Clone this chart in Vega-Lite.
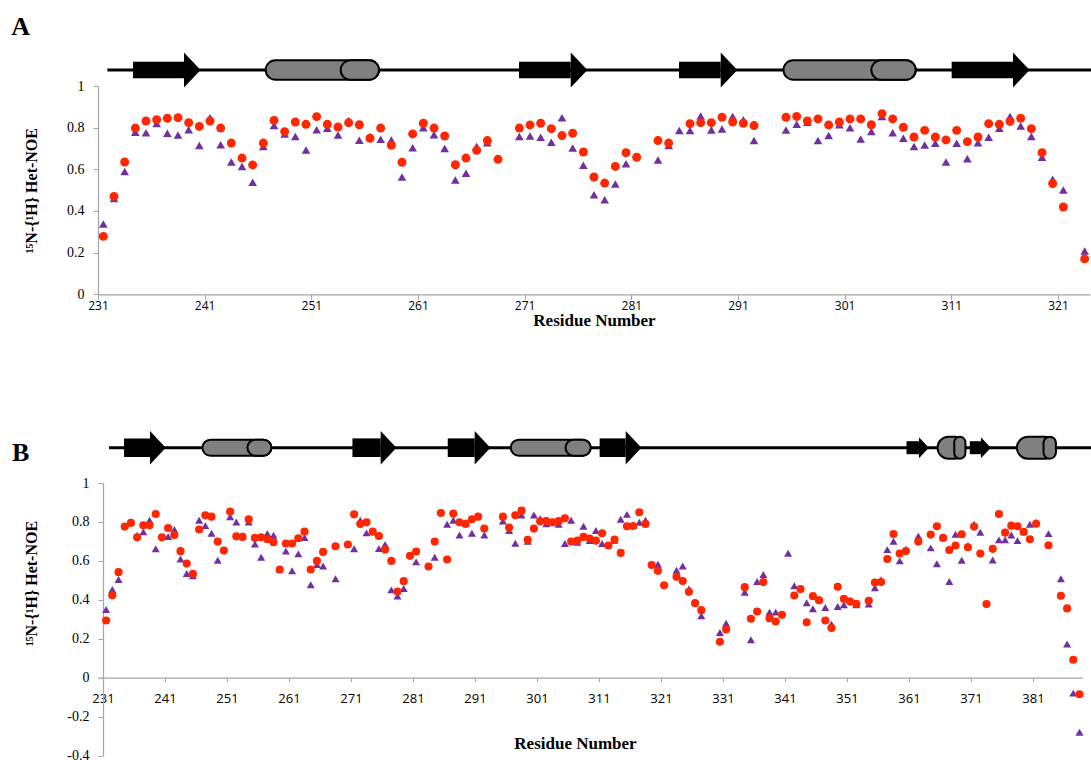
{
  "$schema": "https://vega.github.io/schema/vega-lite/v6.json",
  "autosize": {"type": "pad"},
  "padding": {"left": 11, "top": 14, "right": 0, "bottom": 0},
  "background": "white",
  "config": {
    "view": {"stroke": null},
    "axis": {"grid": false, "domainColor": "#a6a6a6", "tickColor": "#a6a6a6", "labelColor": "#000000", "titleColor": "#000000", "domainWidth": 1.2, "labelOverlap": false}
  },
  "datasets": {
    "noeA": [{"res":231,"p":0.338,"r":0.278},{"res":232,"p":0.46,"r":0.47},{"res":233,"p":0.59,"r":0.635},{"res":234,"p":0.778,"r":0.798},{"res":235,"p":0.776,"r":0.832},{"res":236,"p":0.82,"r":0.838},{"res":237,"p":0.773,"r":0.845},{"res":238,"p":0.765,"r":0.848},{"res":239,"p":0.79,"r":0.824},{"res":240,"p":0.714,"r":0.806},{"res":241,"p":0.848,"r":0.832},{"res":242,"p":0.718,"r":0.798},{"res":243,"p":0.635,"r":0.726},{"res":244,"p":0.613,"r":0.654},{"res":245,"p":0.538,"r":0.621},{"res":246,"p":0.71,"r":0.726},{"res":247,"p":0.81,"r":0.835},{"res":248,"p":0.77,"r":0.781},{"res":249,"p":0.757,"r":0.827},{"res":250,"p":0.693,"r":0.816},{"res":251,"p":0.79,"r":0.853},{"res":252,"p":0.797,"r":0.816},{"res":253,"p":0.765,"r":0.803},{"res":254,"p":0.834,"r":0.824},{"res":255,"p":0.74,"r":0.814},{"res":256,"p":0.757,"r":0.749},{"res":257,"p":0.744,"r":0.798},{"res":258,"p":0.741,"r":0.715},{"res":259,"p":0.563,"r":0.634},{"res":260,"p":0.704,"r":0.77},{"res":261,"p":0.8,"r":0.821},{"res":262,"p":0.766,"r":0.798},{"res":263,"p":0.7,"r":0.76},{"res":264,"p":0.549,"r":0.622},{"res":265,"p":0.581,"r":0.654},{"res":266,"p":0.71,"r":0.691},{"res":267,"p":0.728,"r":0.738},{"res":268,"p":null,"r":0.648},{"res":270,"p":0.757,"r":0.798},{"res":271,"p":0.76,"r":0.813},{"res":272,"p":0.754,"r":0.821},{"res":273,"p":0.73,"r":0.795},{"res":274,"p":0.848,"r":0.762},{"res":275,"p":0.702,"r":0.773},{"res":276,"p":0.62,"r":0.683},{"res":277,"p":0.478,"r":0.563},{"res":278,"p":0.454,"r":0.534},{"res":279,"p":0.53,"r":0.614},{"res":280,"p":0.627,"r":0.68},{"res":281,"p":null,"r":0.658},{"res":283,"p":0.645,"r":0.738},{"res":284,"p":0.714,"r":0.726},{"res":285,"p":0.786,"r":null},{"res":286,"p":0.786,"r":0.819},{"res":287,"p":0.856,"r":0.824},{"res":288,"p":0.789,"r":0.824},{"res":289,"p":0.794,"r":0.85},{"res":290,"p":0.853,"r":0.827},{"res":291,"p":0.838,"r":0.821},{"res":292,"p":0.738,"r":0.81},{"res":295,"p":0.789,"r":0.85},{"res":296,"p":0.816,"r":0.854},{"res":297,"p":0.826,"r":0.832},{"res":298,"p":0.738,"r":0.842},{"res":299,"p":0.762,"r":0.813},{"res":300,"p":0.814,"r":0.827},{"res":301,"p":0.8,"r":0.842},{"res":302,"p":0.746,"r":0.842},{"res":303,"p":0.781,"r":0.814},{"res":304,"p":0.853,"r":0.867},{"res":305,"p":0.776,"r":0.842},{"res":306,"p":0.749,"r":0.802},{"res":307,"p":0.709,"r":0.755},{"res":308,"p":0.717,"r":0.787},{"res":309,"p":0.725,"r":0.755},{"res":310,"p":0.635,"r":0.741},{"res":311,"p":0.725,"r":0.787},{"res":312,"p":0.651,"r":0.733},{"res":313,"p":0.728,"r":0.755},{"res":314,"p":0.754,"r":0.819},{"res":315,"p":0.797,"r":0.816},{"res":316,"p":0.853,"r":0.83},{"res":317,"p":0.808,"r":0.845},{"res":318,"p":0.757,"r":0.795},{"res":319,"p":0.658,"r":0.68},{"res":320,"p":0.552,"r":0.531},{"res":321,"p":0.501,"r":0.419},{"res":323,"p":0.208,"r":0.17}],
    "noeB": [{"res":231,"p":0.35,"r":0.294},{"res":232,"p":0.453,"r":0.424},{"res":233,"p":0.504,"r":0.542},{"res":234,"p":null,"r":0.776},{"res":235,"p":null,"r":0.795},{"res":236,"p":0.732,"r":0.721},{"res":237,"p":0.749,"r":0.783},{"res":238,"p":0.809,"r":0.783},{"res":239,"p":0.662,"r":0.841},{"res":240,"p":null,"r":0.721},{"res":241,"p":0.725,"r":0.769},{"res":242,"p":0.761,"r":0.733},{"res":243,"p":0.61,"r":0.65},{"res":244,"p":0.535,"r":0.586},{"res":245,"p":0.523,"r":0.533},{"res":246,"p":0.809,"r":0.761},{"res":247,"p":0.781,"r":0.834},{"res":248,"p":0.742,"r":0.827},{"res":249,"p":0.603,"r":0.699},{"res":250,"p":null,"r":0.653},{"res":251,"p":0.827,"r":0.853},{"res":252,"p":0.8,"r":0.726},{"res":253,"p":0.73,"r":0.723},{"res":254,"p":0.8,"r":0.814},{"res":255,"p":0.687,"r":0.718},{"res":256,"p":0.619,"r":0.721},{"res":257,"p":0.74,"r":0.711},{"res":258,"p":0.732,"r":0.696},{"res":259,"p":0.557,"r":0.556},{"res":260,"p":0.65,"r":0.689},{"res":261,"p":0.549,"r":0.689},{"res":262,"p":0.636,"r":0.716},{"res":263,"p":0.72,"r":0.75},{"res":264,"p":0.477,"r":0.556},{"res":265,"p":0.581,"r":0.6},{"res":266,"p":0.573,"r":0.646},{"res":268,"p":0.508,"r":0.675},{"res":270,"p":null,"r":0.684},{"res":271,"p":0.662,"r":0.839},{"res":272,"p":0.809,"r":0.79},{"res":273,"p":0.744,"r":0.798},{"res":274,"p":null,"r":0.75},{"res":275,"p":0.663,"r":0.728},{"res":276,"p":0.684,"r":0.658},{"res":277,"p":0.451,"r":0.6},{"res":278,"p":0.419,"r":0.443},{"res":279,"p":0.458,"r":0.496},{"res":280,"p":null,"r":0.626},{"res":281,"p":0.595,"r":0.648},{"res":283,"p":null,"r":0.571},{"res":284,"p":0.619,"r":0.699},{"res":285,"p":null,"r":0.846},{"res":286,"p":0.788,"r":0.607},{"res":287,"p":0.809,"r":0.843},{"res":288,"p":0.733,"r":0.798},{"res":289,"p":0.795,"r":0.79},{"res":290,"p":0.742,"r":0.814},{"res":291,"p":null,"r":0.827},{"res":292,"p":0.733,"r":0.766},{"res":295,"p":0.805,"r":0.827},{"res":296,"p":0.756,"r":0.771},{"res":297,"p":0.691,"r":0.834},{"res":298,"p":0.836,"r":0.858},{"res":299,"p":0.701,"r":0.708},{"res":300,"p":0.836,"r":0.766},{"res":301,"p":0.817,"r":0.803},{"res":302,"p":0.791,"r":0.805},{"res":303,"p":0.798,"r":0.798},{"res":304,"p":0.788,"r":0.805},{"res":305,"p":0.689,"r":0.819},{"res":306,"p":0.809,"r":0.699},{"res":307,"p":0.696,"r":0.704},{"res":308,"p":0.778,"r":0.723},{"res":309,"p":0.704,"r":0.715},{"res":310,"p":0.756,"r":0.704},{"res":311,"p":0.689,"r":0.742},{"res":312,"p":null,"r":0.679},{"res":313,"p":0.706,"r":0.709},{"res":314,"p":0.814,"r":0.641},{"res":315,"p":0.839,"r":0.778},{"res":316,"p":0.781,"r":0.779},{"res":317,"p":0.798,"r":0.85},{"res":318,"p":0.809,"r":0.79},{"res":319,"p":null,"r":0.579},{"res":320,"p":0.583,"r":0.549},{"res":321,"p":null,"r":0.475},{"res":323,"p":0.552,"r":0.518},{"res":324,"p":0.574,"r":0.497},{"res":325,"p":0.456,"r":0.441},{"res":326,"p":null,"r":0.383},{"res":327,"p":0.318,"r":0.347},{"res":330,"p":0.232,"r":0.185},{"res":331,"p":0.28,"r":0.248},{"res":334,"p":0.439,"r":0.465},{"res":335,"p":0.195,"r":0.303},{"res":336,"p":0.494,"r":0.34},{"res":337,"p":0.53,"r":0.491},{"res":338,"p":0.337,"r":0.306},{"res":339,"p":0.337,"r":0.289},{"res":340,"p":null,"r":0.323},{"res":341,"p":0.639,"r":null},{"res":342,"p":0.472,"r":0.422},{"res":343,"p":null,"r":0.455},{"res":344,"p":0.385,"r":0.285},{"res":345,"p":0.354,"r":0.419},{"res":346,"p":0.405,"r":0.398},{"res":347,"p":0.361,"r":0.294},{"res":348,"p":0.275,"r":0.255},{"res":349,"p":0.366,"r":0.467},{"res":350,"p":0.374,"r":0.405},{"res":351,"p":0.397,"r":0.391},{"res":352,"p":0.374,"r":0.379},{"res":354,"p":0.378,"r":0.395},{"res":355,"p":0.462,"r":0.489},{"res":356,"p":0.503,"r":0.491},{"res":357,"p":0.658,"r":0.61},{"res":358,"p":0.701,"r":0.738},{"res":359,"p":0.6,"r":0.638},{"res":360,"p":0.66,"r":0.651},{"res":362,"p":0.727,"r":0.699},{"res":364,"p":0.667,"r":0.735},{"res":365,"p":0.585,"r":0.778},{"res":366,"p":0.723,"r":0.718},{"res":367,"p":0.494,"r":0.656},{"res":368,"p":0.737,"r":0.679},{"res":369,"p":0.603,"r":0.737},{"res":370,"p":0.679,"r":0.67},{"res":371,"p":0.788,"r":0.776},{"res":372,"p":0.747,"r":0.638},{"res":373,"p":null,"r":0.378},{"res":374,"p":0.605,"r":0.662},{"res":375,"p":0.708,"r":0.841},{"res":376,"p":0.708,"r":0.745},{"res":377,"p":0.733,"r":0.781},{"res":378,"p":0.704,"r":0.778},{"res":379,"p":0.75,"r":0.749},{"res":380,"p":0.788,"r":0.711},{"res":381,"p":0.798,"r":0.791},{"res":383,"p":0.74,"r":0.68},{"res":385,"p":0.508,"r":0.421},{"res":386,"p":0.173,"r":0.356},{"res":387,"p":-0.079,"r":0.092},{"res":388,"p":-0.28,"r":-0.085}],
    "ssA": [{"type":"coil","start":231.38,"end":323.7},{"type":"strand","start":233.78,"head":238.56,"end":240.13},{"type":"helix","start":246.22,"cap":253.25,"end":256.84},{"type":"strand","start":269.97,"head":274.82,"end":276.32},{"type":"strand","start":284.97,"head":288.88,"end":290.44},{"type":"helix","start":294.76,"cap":303.0,"end":307.16},{"type":"strand","start":310.53,"head":316.28,"end":317.78}],
    "ssB": [{"type":"coil","start":231.47,"end":390},{"type":"strand","start":233.89,"head":238.08,"end":240.61},{"type":"helix","start":246.53,"cap":253.79,"end":257.66},{"type":"strand","start":270.73,"head":275.29,"end":277.71},{"type":"strand","start":286.1,"head":290.45,"end":292.7},{"type":"helix","start":296.26,"cap":305.1,"end":309.16},{"type":"strand","start":310.6,"head":314.8,"end":317.2},{"type":"strand","start":360.1,"head":362.1,"end":363.7},{"type":"helix","start":365.1,"cap":367.8,"end":369.6},{"type":"strand","start":370.3,"head":372.1,"end":373.2},{"type":"helix","start":377.9,"cap":382.2,"end":384.2}]
  },
  "bounds": "flush",
  "spacing": 0,
  "vconcat": [
    {
      "width": 992, "height": 40,
      "data": {"name": "ssA"},
      "layer": [
        {"transform": [{"filter": "datum.type === 'coil'"}],
         "mark": {"type": "rule", "color": "black", "strokeWidth": 3},
         "encoding": {"x": {"field": "start", "type": "quantitative", "scale": {"domain": [230.5, 323.5], "nice": false, "zero": false}, "axis": null}, "x2": {"field": "end"}, "y": {"datum": 0, "type": "quantitative", "scale": {"domain": [-0.8, 1.2], "nice": false, "zero": false}, "axis": null}}},
        {"transform": [{"filter": "datum.type === 'helix'"}],
         "mark": {"type": "rect", "fill": "#808080", "stroke": "black", "strokeWidth": 2, "cornerRadius": 40},
         "encoding": {"x": {"field": "start", "type": "quantitative"}, "x2": {"field": "end"}, "y": {"datum": 0.485, "type": "quantitative"}, "y2": {"datum": -0.485}}},
        {"transform": [{"filter": "datum.type === 'helix'"}],
         "mark": {"type": "rect", "fill": "#808080", "stroke": "black", "strokeWidth": 2, "cornerRadius": 40},
         "encoding": {"x": {"field": "cap", "type": "quantitative"}, "x2": {"field": "end"}, "y": {"datum": 0.485, "type": "quantitative"}, "y2": {"datum": -0.485}}},
        {"transform": [{"filter": "datum.type === 'strand'"}],
         "mark": {"type": "rect", "fill": "black"},
         "encoding": {"x": {"field": "start", "type": "quantitative"}, "x2": {"field": "head"}, "y": {"datum": 0.415, "type": "quantitative"}, "y2": {"datum": -0.415}}},
        {"transform": [{"filter": "datum.type === 'strand'"}],
         "mark": {"type": "point", "shape": "M0,-1L0.95,0L0,1Z", "filled": true, "color": "black", "opacity": 1, "size": 1225, "strokeWidth": 0},
         "encoding": {"x": {"field": "head", "type": "quantitative"}, "y": {"datum": 0, "type": "quantitative"}}},
        {"data": {"values": [{"label": "A"}]},
         "mark": {"type": "text", "font": "Liberation Serif", "fontWeight": "bold", "fontSize": 26, "align": "center", "baseline": "middle", "color": "black"},
         "encoding": {"x": {"datum": 223.25, "type": "quantitative"}, "y": {"datum": 2.15, "type": "quantitative"}, "text": {"field": "label"}}}
      ]
    },
    {
      "width": 992, "height": 208.3,
      "data": {"name": "noeA"},
      "encoding": {
        "x": {"field": "res", "type": "quantitative", "scale": {"domain": [230.5, 323.5], "nice": false, "zero": false},
              "axis": {"values": [230.5,240.5,250.5,260.5,270.5,280.5,290.5,300.5,310.5,320.5], "tickCount": 20, "labelExpr": "format(datum.value + 0.5, 'd')", "labelOverlap": false, "title": "Residue Number", "titleFont": "Liberation Serif", "titleFontSize": 17, "titleFontWeight": "bold", "titleBaseline": "middle", "titleY": 26, "labelFont": "Open Sans", "labelFontSize": 12, "labelFlush": false, "tickSize": 5, "labelPadding": 1}}
      },
      "layer": [
        {"mark": {"type": "point", "shape": "triangle-up", "filled": true, "color": "#7030A0", "opacity": 1, "size": 75},
         "encoding": {"y": {"field": "p", "type": "quantitative", "title": "¹⁵N-{¹H} Het-NOE", "scale": {"domain": [0, 1], "nice": false, "zero": false},
              "axis": {"values": [0, 0.2, 0.4, 0.6, 0.8, 1], "tickCount": 10, "labelExpr": "datum.value < 0 ? '-' + format(-datum.value, '~g') : format(datum.value, '~g')", "labelOverlap": false, "titleFont": "Liberation Serif", "titleFontSize": 16, "titleFontWeight": "bold", "titleBaseline": "middle", "titleX": -67, "labelFont": "Liberation Serif", "labelFontSize": 14, "tickSize": 5, "labelPadding": 9}}}},
        {"mark": {"type": "circle", "color": "#FF2600", "opacity": 1, "size": 80},
         "encoding": {"y": {"field": "r", "type": "quantitative", "title": "¹⁵N-{¹H} Het-NOE"}}}
      ]
    },
    {
      "width": 984.6, "height": 187.4,
      "data": {"name": "ssB"},
      "layer": [
        {"transform": [{"filter": "datum.type === 'coil'"}],
         "mark": {"type": "rule", "color": "black", "strokeWidth": 3},
         "encoding": {"x": {"field": "start", "type": "quantitative", "scale": {"domain": [229.69, 388.5], "nice": false, "zero": false}, "axis": null}, "x2": {"field": "end"}, "y": {"datum": 0, "type": "quantitative", "scale": {"domain": [-1.735, 7.635], "nice": false, "zero": false}, "axis": null}}},
        {"transform": [{"filter": "datum.type === 'helix' && datum.end - datum.start >= 8"}],
         "mark": {"type": "rect", "fill": "#808080", "stroke": "black", "strokeWidth": 2, "cornerRadius": 40},
         "encoding": {"x": {"field": "start", "type": "quantitative"}, "x2": {"field": "end"}, "y": {"datum": 0.4, "type": "quantitative"}, "y2": {"datum": -0.4}}},
        {"transform": [{"filter": "datum.type === 'helix' && datum.end - datum.start >= 8"}],
         "mark": {"type": "rect", "fill": "#808080", "stroke": "black", "strokeWidth": 2, "cornerRadius": 40},
         "encoding": {"x": {"field": "cap", "type": "quantitative"}, "x2": {"field": "end"}, "y": {"datum": 0.4, "type": "quantitative"}, "y2": {"datum": -0.4}}},
        {"transform": [{"filter": "datum.type === 'helix' && datum.end - datum.start < 8"}],
         "mark": {"type": "rect", "fill": "#808080", "stroke": "black", "strokeWidth": 2, "cornerRadius": 40},
         "encoding": {"x": {"field": "start", "type": "quantitative"}, "x2": {"field": "end"}, "y": {"datum": 0.55, "type": "quantitative"}, "y2": {"datum": -0.55}}},
        {"transform": [{"filter": "datum.type === 'helix' && datum.end - datum.start < 8"}],
         "mark": {"type": "rect", "fill": "#808080", "stroke": "black", "strokeWidth": 2, "cornerRadius": 40},
         "encoding": {"x": {"field": "cap", "type": "quantitative"}, "x2": {"field": "end"}, "y": {"datum": 0.55, "type": "quantitative"}, "y2": {"datum": -0.55}}},
        {"transform": [{"filter": "datum.type === 'strand' && datum.end - datum.start >= 5"}],
         "mark": {"type": "rect", "fill": "black"},
         "encoding": {"x": {"field": "start", "type": "quantitative"}, "x2": {"field": "head"}, "y": {"datum": 0.465, "type": "quantitative"}, "y2": {"datum": -0.465}}},
        {"transform": [{"filter": "datum.type === 'strand' && datum.end - datum.start >= 5"}],
         "mark": {"type": "point", "shape": "M0,-1L0.94,0L0,1Z", "filled": true, "color": "black", "opacity": 1, "size": 1116, "strokeWidth": 0},
         "encoding": {"x": {"field": "head", "type": "quantitative"}, "y": {"datum": 0, "type": "quantitative"}}},
        {"transform": [{"filter": "datum.type === 'strand' && datum.end - datum.start < 5"}],
         "mark": {"type": "rect", "fill": "black"},
         "encoding": {"x": {"field": "start", "type": "quantitative"}, "x2": {"field": "head"}, "y": {"datum": 0.325, "type": "quantitative"}, "y2": {"datum": -0.325}}},
        {"transform": [{"filter": "datum.type === 'strand' && datum.end - datum.start < 5"}],
         "mark": {"type": "point", "shape": "M0,-1L0.95,0L0,1Z", "filled": true, "color": "black", "opacity": 1, "size": 441, "strokeWidth": 0},
         "encoding": {"x": {"field": "head", "type": "quantitative"}, "y": {"datum": 0, "type": "quantitative"}}},
        {"data": {"values": [{"label": "B"}]},
         "mark": {"type": "text", "font": "Liberation Serif", "fontWeight": "bold", "fontSize": 26, "align": "center", "baseline": "middle", "color": "black"},
         "encoding": {"x": {"datum": 217.22, "type": "quantitative"}, "y": {"datum": -0.25, "type": "quantitative"}, "text": {"field": "label"}}}
      ]
    },
    {
      "width": 984.6, "height": 272.6,
      "data": {"name": "noeB"},
      "encoding": {
        "x": {"field": "res", "type": "quantitative", "scale": {"domain": [229.69, 388.5], "nice": false, "zero": false},
              "axis": {"values": [230.5,240.5,250.5,260.5,270.5,280.5,290.5,300.5,310.5,320.5,330.5,340.5,350.5,360.5,370.5,380.5], "tickCount": 30, "labelExpr": "format(datum.value + 0.5, 'd')", "labelOverlap": false, "offset": -78, "title": "Residue Number", "titleFont": "Liberation Serif", "titleFontSize": 17, "titleFontWeight": "bold", "titleBaseline": "middle", "titleY": 66, "titleX": 477, "labelFont": "Open Sans", "labelFontSize": 13, "labelFlush": false, "tickSize": 4, "labelPadding": 11}}
      },
      "layer": [
        {"mark": {"type": "point", "shape": "triangle-up", "filled": true, "color": "#7030A0", "opacity": 1, "size": 64},
         "encoding": {"y": {"field": "p", "type": "quantitative", "title": "¹⁵N-{¹H} Het-NOE", "scale": {"domain": [-0.4, 1], "nice": false, "zero": false},
              "axis": {"values": [-0.4, -0.2, 0, 0.2, 0.4, 0.6, 0.8, 1], "tickCount": 12, "labelExpr": "datum.value < 0 ? '-' + format(-datum.value, '~g') : format(datum.value, '~g')", "labelOverlap": false, "offset": -5, "titleFont": "Liberation Serif", "titleFontSize": 16, "titleFontWeight": "bold", "titleBaseline": "middle", "titleX": -72, "titleY": 100, "labelFont": "Liberation Serif", "labelFontSize": 14, "tickSize": 5, "labelPadding": 9}}}},
        {"mark": {"type": "circle", "color": "#FF2600", "opacity": 1, "size": 66},
         "encoding": {"y": {"field": "r", "type": "quantitative", "title": "¹⁵N-{¹H} Het-NOE"}}}
      ]
    }
  ]
}
